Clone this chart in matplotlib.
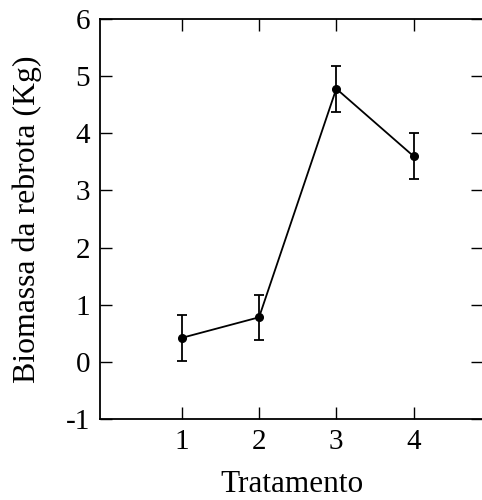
import numpy as np
import matplotlib
matplotlib.use("Agg")
import matplotlib.pyplot as plt

plt.rcParams["font.family"] = ["Liberation Serif", "DejaVu Serif"]
plt.rcParams["axes.unicode_minus"] = False

tratamento = [1, 2, 3, 4]
biomassa = [0.42, 0.78, 4.78, 3.60]
erro = [0.40, 0.39, 0.40, 0.40]
yticks = [-1, 0, 1, 2, 3, 4, 5, 6]

fig = plt.figure(figsize=(4.82, 5.0), dpi=100)
ax = fig.add_axes([100 / 482, 1 - 419 / 500, 383 / 482, 400 / 500])

ax.errorbar(tratamento, biomassa, yerr=erro, color="black", lw=1.3,
            marker="o", markersize=5.5, capsize=3.6, elinewidth=1.3,
            capthick=1.3)

ax.set_xlim(-0.06, 4.9)
ax.set_ylim(-1, 6)
ax.set_xticks(tratamento)
ax.set_yticks(yticks)
ax.tick_params(direction="in", length=8.5, width=1, top=True, right=True,
               labelsize=21, pad=7)
for sp in ax.spines.values():
    sp.set_linewidth(1.3)

ax.set_xlabel("Tratamento", fontsize=22.5)
ax.set_ylabel("Biomassa da rebrota (Kg)", fontsize=22.9)
ax.xaxis.set_label_coords(0.5, (419 - 470) / 400)
ax.yaxis.set_label_coords((42 - 100) / 383, 0.5)

fig.savefig("out.png", dpi=100)
